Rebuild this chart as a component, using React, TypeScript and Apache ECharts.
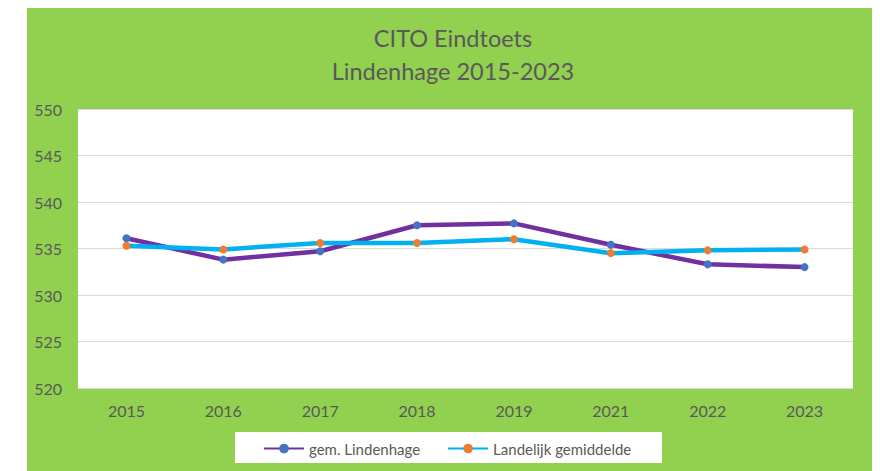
import React, { useEffect, useRef } from "react";
import * as echarts from "echarts";

const years = ["2015", "2016", "2017", "2018", "2019", "2021", "2022", "2023"];
const lindenhage = [536.1, 533.8, 534.7, 537.5, 537.7, 535.4, 533.3, 533.0];
const landelijk = [535.3, 534.9, 535.6, 535.6, 536.0, 534.5, 534.8, 534.9];
const titleLines = ["CITO Eindtoets", "Lindenhage 2015-2023"];
const seriesNames = ["gem. Lindenhage", "Landelijk gemiddelde"];

const FONT = "Lato, 'Open Sans', sans-serif";
const TEXT = "#595959";

export default function App() {
  const ref = useRef<HTMLDivElement>(null);
  useEffect(() => {
    if (!ref.current) return;
    const chart = echarts.init(ref.current, undefined, { renderer: "svg" });
    chart.setOption({
      animation: false,
      backgroundColor: "#ffffff",
      textStyle: { fontFamily: FONT },
      graphic: [
        {
          type: "rect",
          z: -10,
          silent: true,
          shape: { x: 27, y: 8, width: 845, height: 463 },
          style: { fill: "#92D050" },
        },
        {
          type: "rect",
          z: -5,
          silent: true,
          shape: { x: 235, y: 432, width: 427, height: 31 },
          style: { fill: "#ffffff" },
        },
      ],
      title: {
        text: titleLines.join("\n"),
        left: 448,
        textAlign: "center",
        top: 16,
        textStyle: {
          color: TEXT,
          fontFamily: FONT,
          fontSize: 23.5,
          fontWeight: "normal",
          lineHeight: 33,
        },
      },
      legend: {
        data: seriesNames,
        left: 263,
        top: 441,
        padding: 0,
        itemWidth: 40,
        itemHeight: 12,
        itemGap: 27,
        textStyle: { color: TEXT, fontSize: 15, fontFamily: FONT },
      },
      grid: {
        left: 78,
        top: 109,
        right: 27,
        bottom: 83,
        show: true,
        backgroundColor: "#ffffff",
        borderWidth: 0,
        containLabel: false,
      },
      xAxis: {
        type: "category",
        data: years,
        boundaryGap: true,
        axisLine: { show: false },
        axisTick: { show: false },
        axisLabel: { color: TEXT, fontSize: 16, fontFamily: FONT, margin: 14 },
      },
      yAxis: {
        type: "value",
        min: 520,
        max: 550,
        interval: 5,
        axisLine: { show: false },
        axisTick: { show: false },
        axisLabel: { color: TEXT, fontSize: 16, fontFamily: FONT, margin: 16 },
        splitLine: { lineStyle: { color: "#d9d9d9", width: 1 } },
      },
      series: [
        {
          name: seriesNames[0],
          type: "line",
          data: lindenhage,
          symbol: "circle",
          symbolSize: 8,
          lineStyle: { color: "#7030A0", width: 4.5 },
          itemStyle: { color: "#4472C4" },
        },
        {
          name: seriesNames[1],
          type: "line",
          data: landelijk,
          symbol: "circle",
          symbolSize: 8,
          lineStyle: { color: "#00B0F0", width: 4.5 },
          itemStyle: { color: "#ED7D31" },
        },
      ],
    });
    return () => chart.dispose();
  }, []);
  return (
    <div
      ref={ref}
      style={{ position: "absolute", left: 0, top: 0, width: 880, height: 471 }}
    />
  );
}
